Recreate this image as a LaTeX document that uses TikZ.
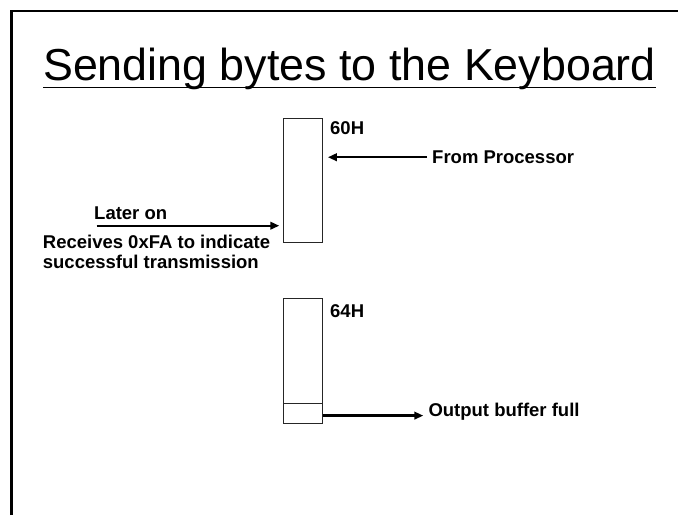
\documentclass[tikz,border=0pt]{standalone}
\usepackage{fontspec}
\setmainfont{Liberation Sans}
\usetikzlibrary{arrows.meta}
\begin{document}
\begin{tikzpicture}[x=1pt,y=-1pt,
  reg/.style={draw=black!85, line width=1.2pt, inner sep=0pt, anchor=north west, minimum width=39pt},
  lbl/.style={font=\fontsize{18.5}{20}\selectfont\bfseries, inner sep=0pt, anchor=base west},
  arr/.style={line width=2.4pt, -{Triangle[length=9pt,width=7.5pt]}},
  frame/.style={line width=2.2pt}]
\useasboundingbox (0,0) rectangle (678,515);
% frame
\draw[frame] (11.5,515) -- (11.5,11) -- (678,11);
% title
\node[inner sep=0pt, anchor=base west, font=\fontsize{44.8}{50}\selectfont] (title) at (43,80) {Sending bytes to the Keyboard};
\draw[line width=1.6pt] ([yshift=-7.5pt]title.base west) -- ([yshift=-7.5pt]title.base east);
% registers
\node[reg, minimum height=124pt] (r60) at (283,118) {};
\node[reg, minimum height=125pt] (r64) at (283,298) {};
\node[reg, minimum height=20pt] (flag) at (283,403) {};
% labels
\node[lbl] (l60) at (330,134.3) {60H};
\node[lbl] (l64) at (330,317.7) {64H};
\node[lbl] (fp) at (432,163.5) {From Processor};
\node[lbl] (later) at (94,219.3) {Later on};
\node[lbl] (recv) at (42.7,248.3) {Receives 0xFA to indicate};
\node[lbl] (recvb) at (42.7,268.3) {successful transmission};
\node[lbl] (obf) at (428.3,416.7) {Output buffer full};
% arrows
\coordinate (fpstart) at ([xshift=-5pt]fp.west);
\coordinate (fptip) at ([xshift=4.7pt]fpstart -| r60.east);
\draw[arr] (fpstart) -- (fptip);
\coordinate (lstart) at (96.7,225.7);
\coordinate (ltip) at ([xshift=-3.7pt]lstart -| r60.west);
\draw[arr] (lstart) -- (ltip);
\coordinate (ostart) at ([yshift=-2pt]flag.east);
\coordinate (otip) at ([xshift=-5pt]ostart -| obf.west);
\draw[arr] (ostart) -- (otip);
\end{tikzpicture}
\end{document}
